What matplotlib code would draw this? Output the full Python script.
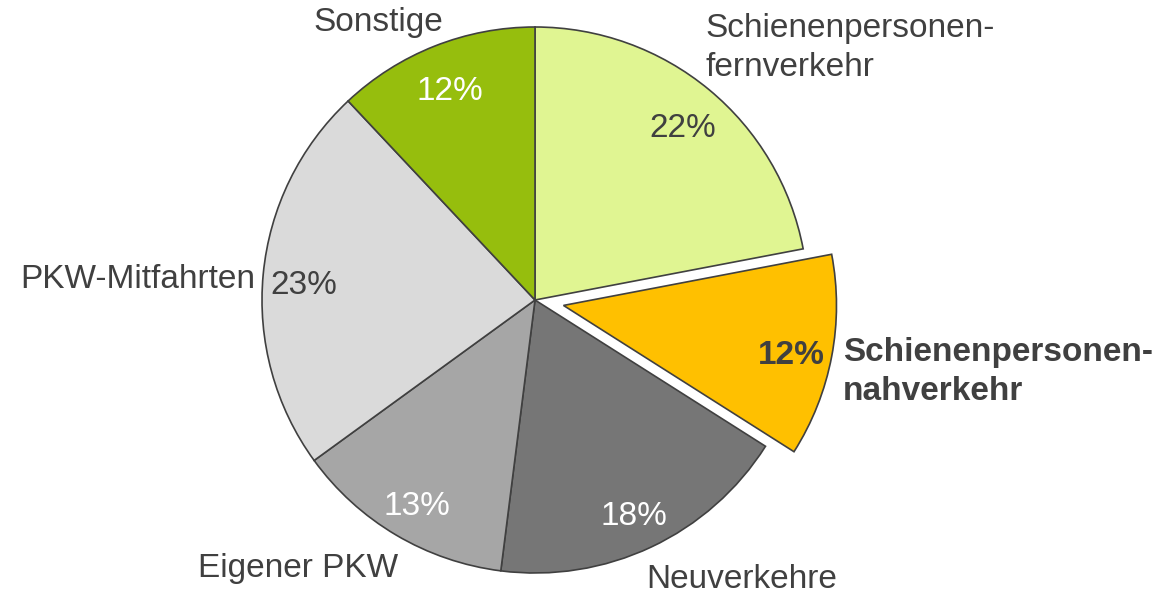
import matplotlib.pyplot as plt

plt.rcParams['font.family'] = ['Liberation Sans', 'DejaVu Sans']

categories = ['Schienenpersonen-\nfernverkehr', 'Schienenpersonen-\nnahverkehr', 'Neuverkehre',
              'Eigener PKW', 'PKW-Mitfahrten', 'Sonstige']
shares = [22, 12, 18, 13, 23, 12]
colors = ['#E0F592', '#FFC000', '#767676', '#A6A6A6', '#DADADA', '#96BE0D']
# matplotlib adds explode in data units (not scaled by radius)
explode = [0, 29, 0, 0, 0, 0]
pct_colors = ['#404040', '#404040', 'white', 'white', '#404040', 'white']

# label anchor positions in pixels (x, y from top), alignment
label_pos = [(705, 48, 'left'), (843, 372, 'left'), (742, 580, 'center'),
             (298, 569, 'center'), (255, 279, 'right'), (378, 23, 'center')]

W, H = 1162, 595
fig = plt.figure(figsize=(W / 100, H / 100), dpi=100)
ax = fig.add_axes([0, 0, 1, 1])

wedges, texts, autotexts = ax.pie(
    shares, colors=colors, explode=explode, startangle=90, counterclock=False,
    center=(535, H - 300), radius=273, autopct='%d%%', pctdistance=0.85,
    wedgeprops=dict(edgecolor='#404040', linewidth=1.2),
    textprops=dict(fontsize=24))

for i, t in enumerate(autotexts):
    t.set_color(pct_colors[i])
    px, py = t.get_position()
    t.set_position((px, py - 7))
    if i == 1:
        t.set_fontweight('bold')

for i, name in enumerate(categories):
    x, y, ha = label_pos[i]
    ax.text(x, H - y, name, ha=ha, va='center', fontsize=24, color='#404040',
            fontweight='bold' if i == 1 else 'normal', linespacing=1.35)

ax.set_xlim(0, W)
ax.set_ylim(0, H)
ax.set_aspect('equal')
ax.axis('off')

fig.savefig('out.png', dpi=100)
